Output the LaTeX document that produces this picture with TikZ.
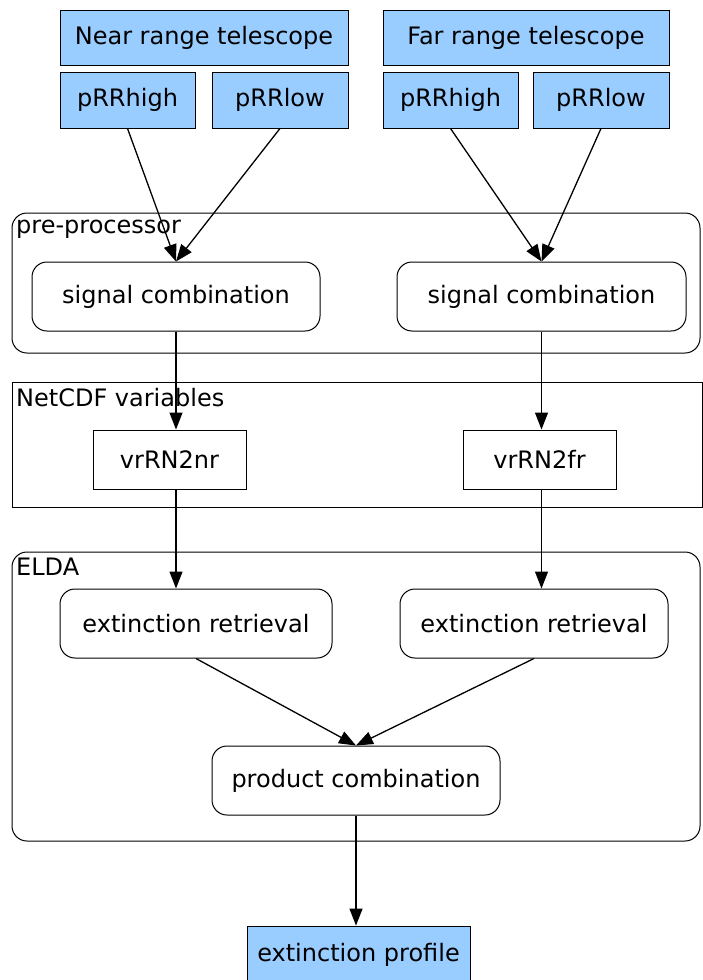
\documentclass[tikz,border=0pt]{standalone}
\usepackage{fontspec}
\setmainfont{DejaVu Sans}
\usetikzlibrary{positioning, calc, arrows.meta}

\definecolor{telblue}{RGB}{153,204,255}

\begin{document}
\begin{tikzpicture}[x=1pt, y=-1pt,
    font=\fontsize{24}{28}\selectfont,
    inbox/.style={draw, line width=0.9pt, fill=telblue, minimum height=56pt, inner sep=0pt},
    stage/.style={draw, line width=1pt, rounded corners=15pt, minimum height=69pt, inner sep=0pt},
    var/.style={draw, line width=1pt, minimum height=59pt, minimum width=153pt, inner sep=0pt},
    group/.style={draw, line width=1pt},
    arr/.style={-{Triangle[length=17pt, width=13pt]}, line width=1.3pt}]
  \useasboundingbox (0,0) rectangle (702,980);

  % containers
  \draw[group, rounded corners=15pt] (12,213) rectangle (700,353);
  \node[anchor=north west, inner sep=0pt] (preLbl) at (16,220) {pre-processor};
  \draw[group] (12,382) rectangle (702,507);
  \node[anchor=north west, inner sep=0pt] (cdfLbl) at (16,388) {NetCDF variables};
  \draw[group, rounded corners=15pt] (12,552) rectangle (700,841);
  \node[anchor=north west, inner sep=0pt] (eldaLbl) at (16,558) {ELDA};

  % telescopes and channels
  \node[inbox, minimum width=288pt, minimum height=55pt] (nearTel) at (204,37.5) {Near range telescope};
  \node[inbox, minimum width=286pt, minimum height=55pt] (farTel) at (526,37.5) {Far range telescope};
  \node[inbox, minimum width=135pt] (nearHigh) at (127.5,100) {pRRhigh};
  \node[inbox, minimum width=136pt] (nearLow) at (280,100) {pRRlow};
  \node[inbox, minimum width=135pt] (farHigh) at (450.5,100) {pRRhigh};
  \node[inbox, minimum width=136pt] (farLow) at (601,100) {pRRlow};

  % processing
  \node[stage, minimum width=288pt] (sigNear) at (176,296.5) {signal combination};
  \node[stage, minimum width=289pt] (sigFar) at (541.5,296.5) {signal combination};
  \node[var] (varNear) at (169.5,459.5) {vrRN2nr};
  \node[var] (varFar) at (539.5,459.5) {vrRN2fr};
  \node[stage, minimum width=272pt] (retNear) at (196,623.5) {extinction retrieval};
  \node[stage, minimum width=268pt] (retFar) at (534,623.5) {extinction retrieval};
  \node[stage, minimum width=288pt] (prod) at (356,780.5) {product combination};
  \node[inbox, minimum width=223pt, minimum height=58pt] (profile) at (358.5,955) {extinction profile};

  % connectors
  \draw[arr] (nearHigh.south) -- (sigNear.north);
  \draw[arr] (nearLow.south) -- (sigNear.north);
  \draw[arr] (farHigh.south) -- (sigFar.north);
  \draw[arr] (farLow.south) -- (sigFar.north);
  \draw[arr] (sigNear.south) -- (sigNear.south |- varNear.north);
  \draw[arr] (sigFar.south) -- (sigFar.south |- varFar.north);
  \draw[arr] (sigNear.south |- varNear.south) -- (sigNear.south |- retNear.north);
  \draw[arr] (sigFar.south |- varFar.south) -- (sigFar.south |- retFar.north);
  \draw[arr] (retNear.south) -- (prod.north);
  \draw[arr] (retFar.south) -- (prod.north);
  \draw[arr] (prod.south) -- (prod.south |- profile.north);
\end{tikzpicture}
\end{document}
